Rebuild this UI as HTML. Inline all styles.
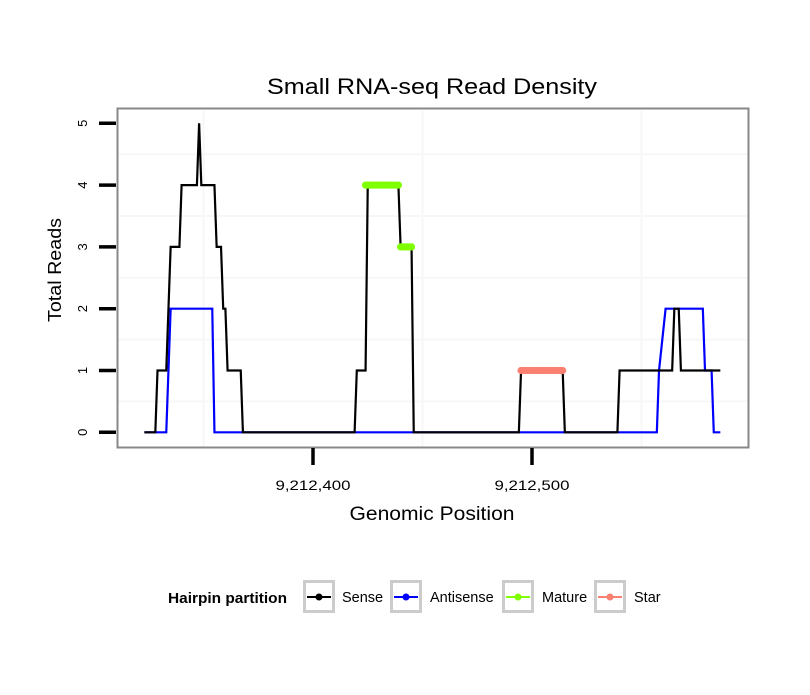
<!DOCTYPE html>
<html><head><meta charset="utf-8"><style>
body{margin:0;background:#fff;}
svg text{font-family:"Liberation Sans",sans-serif;}
</style></head><body>
<svg width="810" height="690" xmlns="http://www.w3.org/2000/svg">
<rect x="0" y="0" width="810" height="690" fill="#fff"/>
<text x="432" y="94" text-anchor="middle" font-size="22" textLength="330" lengthAdjust="spacingAndGlyphs" fill="#000">Small RNA-seq Read Density</text>
<g id="grid"></g>
<g id="series"></g>
<rect x="117.5" y="108.5" width="631" height="339" fill="none" stroke="#888" stroke-width="2"/>
<g id="axes"></g>
<text x="432" y="520" text-anchor="middle" font-size="19" textLength="165" lengthAdjust="spacingAndGlyphs">Genomic Position</text>
<text transform="translate(61,270) rotate(-90)" text-anchor="middle" font-size="18" textLength="104" lengthAdjust="spacingAndGlyphs">Total Reads</text>
<g>
<text x="168" y="603" font-size="14.5" font-weight="bold" textLength="119" lengthAdjust="spacingAndGlyphs">Hairpin partition</text>
<g id="legend"></g>
</g>
</svg>
<script>
const senseX=[-77,-72,-71,-67,-65,-61,-60,-53,-52,-51,-45,-44,-42,-41,-40,-39,-33,-32,19,20,24,25,39,40,45,46,94,95,114,115,139,140,164,165,167,168,186];
const senseY=[0,0,1,1,3,3,4,4,5,4,4,3,3,2,2,1,1,0,0,1,1,4,4,3,3,0,0,1,1,0,0,1,1,2,2,1,1];
const antiX=[-77,-67,-65,-46,-45,157,158,161,178,179,182,183,186];
const antiY=[0,0,2,2,0,0,1,2,2,1,1,0,0];
const matureX=[24,25,26,27,28,29,30,31,32,33,34,35,36,37,38,39,40,41,42,43,44,45];
const matureY=[4,4,4,4,4,4,4,4,4,4,4,4,4,4,4,4,3,3,3,3,3,3];
const starX=[95,96,97,98,99,100,101,102,103,104,105,106,107,108,109,110,111,112,113,114];
const starY=[1,1,1,1,1,1,1,1,1,1,1,1,1,1,1,1,1,1,1,1];
const xTicks=[9212400,9212500];
const xTickLabels=["9,212,400","9,212,500"];
const yTicks=[0,1,2,3,4,5];
const BASE=9212400;
const NS="http://www.w3.org/2000/svg";
function xs(v){return 313+v*2.19;}
function ys(v){return 432.3-v*61.8;}
function mk(tag,attrs,parent){const e=document.createElementNS(NS,tag);for(const k in attrs)e.setAttribute(k,attrs[k]);parent.appendChild(e);return e;}
const grid=document.getElementById('grid'),series=document.getElementById('series'),axes=document.getElementById('axes'),legend=document.getElementById('legend');
[0.5,1.5,2.5,3.5,4.5].forEach(v=>{const l=mk('line',{x1:118,x2:748,y1:ys(v),y2:ys(v),stroke:'#f7f7f7','stroke-width':2},grid);

});
[-50,50,150].forEach(v=>{const l=mk('line',{x1:xs(v),x2:xs(v),y1:109,y2:447,stroke:'#f7f7f7','stroke-width':2},grid);

});
function drawLine(X,Y,col,name){const p=X.map((x,i)=>xs(x)+','+ys(Y[i])).join(' ');
const pl=mk('polyline',{points:p,fill:'none',stroke:col,'stroke-width':2.2,'stroke-linejoin':'miter'},series);

}
drawLine(antiX,antiY,'#0000ff','antisense-line');
drawLine(senseX,senseY,'#000','sense-line');
function drawPts(X,Y,col,name){X.forEach((x,i)=>{const c=mk('circle',{cx:xs(x),cy:ys(Y[i]),r:3.6,fill:col},series);

});}
drawPts(matureX,matureY,'#7fff00','mature-point');
drawPts(starX,starY,'#fa8072','star-point');
yTicks.forEach(v=>{const l=mk('line',{x1:99,x2:116,y1:ys(v),y2:ys(v),stroke:'#000','stroke-width':3.5},axes);


const t=mk('text',{transform:'translate('+87+','+ys(v)+') rotate(-90)','text-anchor':'middle','font-size':13},axes);t.textContent=v;

});
xTicks.forEach((v,i)=>{const x=xs(v-BASE);const l=mk('line',{x1:x,x2:x,y1:448,y2:465,stroke:'#000','stroke-width':3.5},axes);


const t=mk('text',{x:x,y:490,'text-anchor':'middle','font-size':14,textLength:75,lengthAdjust:'spacingAndGlyphs'},axes);t.textContent=xTickLabels[i];

});
const legItems=[["Sense","#000",303,342],["Antisense","#0000ff",390,430],["Mature","#7fff00",502,542],["Star","#fa8072",594,634]];
legItems.forEach(it=>{const g=mk('g',{},legend);


mk('rect',{x:it[2]+1.5,y:581.5,width:29,height:30,fill:'#fff',stroke:'#ccc','stroke-width':3},g);
mk('line',{x1:it[2]+4,x2:it[2]+28,y1:597,y2:597,stroke:it[1],'stroke-width':2},g);
mk('circle',{cx:it[2]+16,cy:597,r:3.5,fill:it[1]},g);
const t=mk('text',{x:it[3],y:602,'font-size':14.5},g);t.textContent=it[0];});
</script>
</body></html>
